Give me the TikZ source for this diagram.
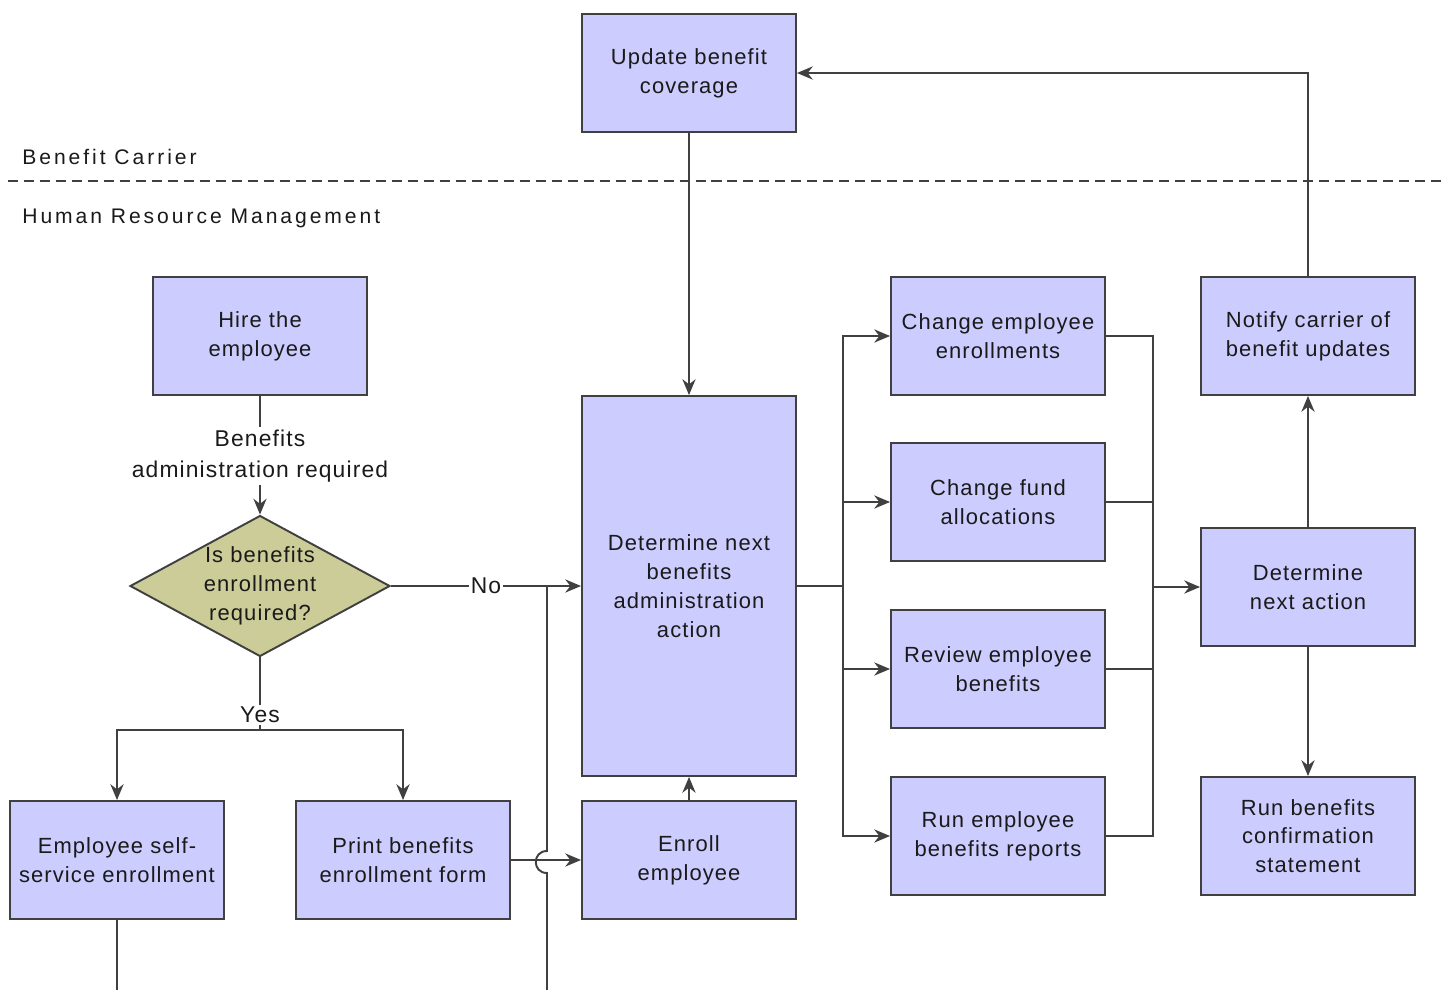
\documentclass[tikz,border=0pt]{standalone}
\usepackage{fontspec}
\setmainfont{Liberation Sans}[LetterSpace=5]
\newfontfamily\lanefont{Liberation Sans}[LetterSpace=14]
\usetikzlibrary{arrows.meta,shapes.geometric}

\definecolor{boxblue}{RGB}{204,204,255}
\definecolor{decolive}{RGB}{204,204,153}
\definecolor{linegray}{RGB}{64,64,64}
\definecolor{inkgray}{RGB}{26,26,26}

\tikzset{
  box/.style={rectangle, draw=linegray, fill=boxblue, line width=1.1pt,
    minimum width=4.28cm, minimum height=2.36cm, align=center, inner sep=2pt,
    text=inkgray, font=\fontsize{12.5}{16.4}\selectfont},
  decision/.style={diamond, draw=linegray, fill=decolive, line width=1.1pt,
    aspect=1.84, minimum width=5.2cm, minimum height=2.82cm, inner sep=-3pt,
    align=center, text=inkgray, font=\fontsize{12.5}{16.4}\selectfont},
  link/.style={draw=linegray, line width=1.1pt},
  flow/.style={link, -{Stealth[length=9pt,width=7.5pt]}},
  tag/.style={fill=white, inner sep=1pt, align=center, text=inkgray,
    font=\fontsize{13}{18}\selectfont},
  lane/.style={anchor=west, inner sep=0pt, text=inkgray,
    font=\lanefont\fontsize{12}{14}\selectfont}
}

\begin{document}
\begin{tikzpicture}[x=0.02cm, y=-0.02cm]
    \useasboundingbox (0,0) rectangle (1444,990);
    \clip (0,0) rectangle (1444,990);

    % Lanes
    \node[lane] (carrier) at (22,157) {Benefit Carrier};
    \node[lane] (hrm)     at (22,218) {Human Resource Management};
    \draw[linegray, line width=1.1pt, dash pattern=on 5.7pt off 3.4pt] (8,181) -- (1444,181);

    % Nodes
    \node[box] at (689,73)   (update)  {Update benefit\\coverage};
    \node[box] at (260,336)  (hire)    {Hire the\\employee};
    \node[decision] at (260,586) (dec) {Is benefits\\enrollment\\required?};
    \node[box, minimum height=7.6cm] at (689,586) (det) {Determine next\\benefits\\administration\\action};
    \node[box] at (117,860)  (self)    {Employee self-\\service enrollment};
    \node[box] at (403,860)  (print)   {Print benefits\\enrollment form};
    \node[box] at (689,860)  (enroll)  {Enroll\\employee};
    \node[box] at (998,336)  (chgenr)  {Change employee\\enrollments};
    \node[box] at (998,502)  (chgfund) {Change fund\\allocations};
    \node[box] at (998,669)  (review)  {Review employee\\benefits};
    \node[box] at (998,836)  (reports) {Run employee\\benefits reports};
    \node[box] at (1308,336) (notify)  {Notify carrier of\\benefit updates};
    \node[box] at (1308,587) (nextact) {Determine\\next action};
    \node[box] at (1308,836) (confirm) {Run benefits\\confirmation\\statement};

    \coordinate (split)  at (260,730);
    \coordinate (join)   at (547,586);
    \coordinate (hopbot) at (547,873);
    \coordinate (hoptop) at (547,851);
    \coordinate (low)    at (547,994);
    \coordinate (fork)   at (843,586);
    \coordinate (merge)  at (1153,587);

    % Connectors
    \node[tag] at (260,456) (benreq) {Benefits\\administration required};
    \draw[link] (hire.south) -- (benreq.north);
    \draw[flow] (benreq.south) -- (dec.north);

    \draw[flow] (dec.east) -- node[tag] (no) {No} (det.west);

    \draw[link] (dec.south) -- (split);
    \draw[flow] (split) -| (self.north);
    \draw[flow] (split) -| (print.north);
    \node[tag] at (260,715) (yes) {Yes};

    \draw[link] (self.south) |- (low) -- (hopbot)
        .. controls +(-15,0) and +(-15,0) .. (hoptop) -- (join);
    \draw[flow] (print.east) -- (enroll.west);
    \draw[flow] (enroll.north) -- (det.south);
    \draw[flow] (update.south) -- (det.north);

    \draw[link] (det.east) -- (fork);
    \foreach \n in {chgenr, chgfund, review, reports} {
        \draw[flow] (fork) |- (\n.west);
        \draw[link] (\n.east) -| (merge);
    }
    \draw[flow] (merge) -- (nextact.west);

    \draw[flow] (nextact.north) -- (notify.south);
    \draw[flow] (nextact.south) -- (confirm.north);
    \draw[flow] (notify.north) |- (update.east);
\end{tikzpicture}
\end{document}
